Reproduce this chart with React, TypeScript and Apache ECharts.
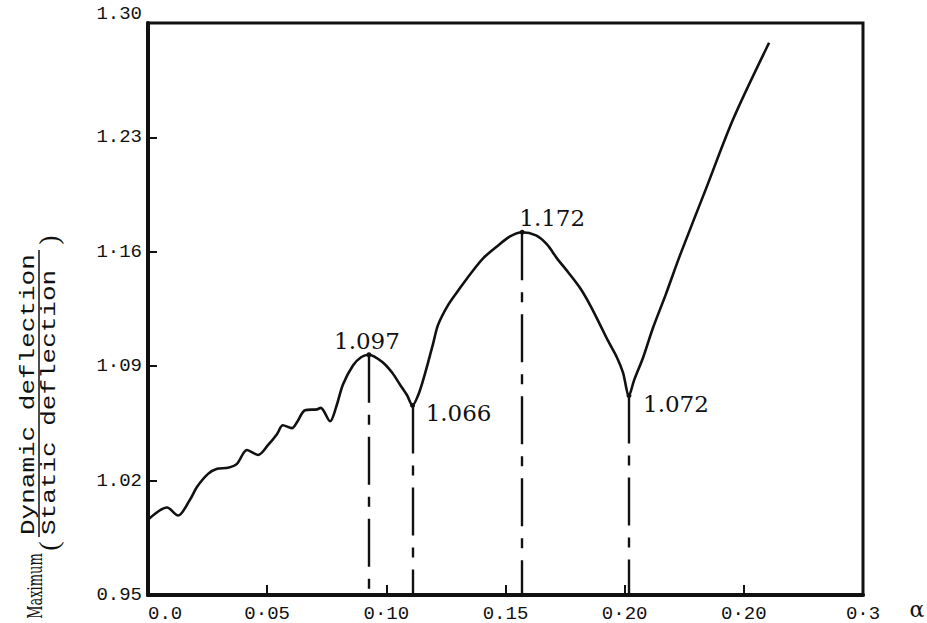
import React, { useEffect, useRef } from "react";
import * as echarts from "echarts";

// ---- data ----
const CURVE_X = [
  0.0, 0.008, 0.0126, 0.0176, 0.0206, 0.0252, 0.029, 0.0336, 0.0373, 0.0415,
  0.0462, 0.0504, 0.0541, 0.0566, 0.0604, 0.0625, 0.0659, 0.0709, 0.0725, 0.0764,
  0.0789, 0.0818, 0.086, 0.0894, 0.0927, 0.0986, 0.1024, 0.1057, 0.1087, 0.111,
  0.1133, 0.1154, 0.1175, 0.1196, 0.1217, 0.1259, 0.1309, 0.1355, 0.1406, 0.1464,
  0.1519, 0.157, 0.1628, 0.1674, 0.1716, 0.1766, 0.1813, 0.1855, 0.1897, 0.193,
  0.1968, 0.1993, 0.2018, 0.2039, 0.2077, 0.2119, 0.2173, 0.2232, 0.2341, 0.2455,
  0.2606,
];
const CURVE_Y = [
  0.996, 1.0035, 0.9986, 1.0083, 1.0162, 1.0241, 1.0272, 1.0278, 1.0302, 1.0387,
  1.0357, 1.0418, 1.0484, 1.0539, 1.0521, 1.0557, 1.063, 1.0636, 1.0645, 1.0563,
  1.0648, 1.0788, 1.0904, 1.0955, 1.097, 1.0922, 1.0861, 1.0788, 1.0722, 1.066,
  1.0721, 1.0813, 1.0922, 1.1037, 1.1153, 1.1274, 1.1378, 1.1469, 1.156, 1.1633,
  1.1694, 1.172, 1.17, 1.1645, 1.156, 1.1469, 1.1378, 1.1274, 1.1153, 1.1056,
  1.0952, 1.0861, 1.072, 1.0812, 1.0952, 1.1135, 1.1341, 1.1578, 1.1985, 1.2411,
  1.2879,
];
const EXTREMA_X = [0.0927, 0.111, 0.157, 0.2018];
const EXTREMA_Y = [1.097, 1.066, 1.172, 1.072];
const EXTREMA_LABELS = ["1.097", "1.066", "1.172", "1.072"];

const X_TICK_LABELS = ["0.0", "0·05", "0·10", "0.15", "0·20", "0·20", "0·3"];
const Y_TICK_LABELS = ["0.95", "1.02", "1·09", "1·16", "1.23", "1.30"];

const Y_TITLE_LEAD = "Maximum";
const Y_TITLE_NUM = "Dynamic deflection";
const Y_TITLE_DEN = "Static deflection";
const X_TITLE = "α";

// ---- axis settings ----
const X_MIN = 0;
const X_MAX = 0.3;
const X_STEP = 0.05;
const Y_MIN = 0.95; // y values are plotted relative to this base
const Y_STEP = 0.07;
const Y_SPAN = 0.35;

// label offsets (style, pixels)
const LABEL_OFFSETS = [
  [-2, -14],
  [46, 8],
  [30, -14],
  [47, 8],
];

const MONO = "Liberation Mono";
const SERIF = "DejaVu Serif";

export default function App() {
  const ref = useRef<HTMLDivElement>(null);

  useEffect(() => {
    if (!ref.current) return;
    const chart = echarts.init(ref.current, undefined, { renderer: "svg" });

    const lineData = CURVE_X.map((x, i) => [x, CURVE_Y[i] - Y_MIN]);

    const rotText = (
      text: string,
      x: number,
      y: number,
      size: number,
      family: string,
      align: string,
      stretch = 1
    ) => ({
      type: "text",
      x,
      y,
      rotation: Math.PI / 2,
      scaleX: stretch,
      style: {
        text,
        fill: "#111",
        fontSize: size,
        fontFamily: family,
        align,
        verticalAlign: "middle",
      },
    });

    const option: any = {
      animation: false,
      backgroundColor: "#ffffff",
      grid: {
        left: 148,
        right: 64,
        top: 23,
        bottom: 24,
        show: true,
        borderColor: "#111",
        borderWidth: 3,
        backgroundColor: "transparent",
      },
      xAxis: {
        type: "value",
        min: X_MIN,
        max: X_MAX,
        interval: X_STEP,
        axisLine: { show: true, onZero: false, lineStyle: { color: "#111", width: 4 } },
        axisTick: { show: true, inside: true, length: 10, lineStyle: { color: "#111", width: 2 } },
        splitLine: { show: false },
        axisLabel: {
          show: true,
          margin: 9,
          color: "#111",
          fontFamily: MONO,
          fontSize: 19,
          alignMinLabel: "left",
          formatter: (v: number) => X_TICK_LABELS[Math.round(v / X_STEP)] ?? "",
        },
      },
      yAxis: {
        type: "value",
        min: 0,
        max: Y_SPAN,
        interval: Y_STEP,
        axisLine: { show: true, onZero: false, lineStyle: { color: "#111", width: 4 } },
        axisTick: { show: true, inside: true, length: 9, lineStyle: { color: "#111", width: 2 } },
        splitLine: { show: false },
        axisLabel: {
          show: true,
          margin: 6,
          color: "#111",
          fontFamily: MONO,
          fontSize: 19,
          verticalAlignMaxLabel: "bottom",
          formatter: (v: number) => Y_TICK_LABELS[Math.round(v / Y_STEP)] ?? "",
        },
      },
      series: [
        {
          type: "line",
          data: lineData,
          smooth: 0.3,
          showSymbol: false,
          symbol: "none",
          lineStyle: { color: "#111", width: 2.6 },
          silent: true,
          markLine: {
            silent: true,
            symbol: "none",
            label: { show: false },
            lineStyle: { color: "#111", width: 2.4, type: [48, 12, 10, 12] },
            data: EXTREMA_X.map((x, i) => [
              { coord: [x, EXTREMA_Y[i] - Y_MIN] },
              { coord: [x, 0] },
            ]),
          },
          markPoint: {
            silent: true,
            symbol: "circle",
            symbolSize: 5,
            itemStyle: { color: "#111" },
            data: EXTREMA_X.map((x, i) => ({
              coord: [x, EXTREMA_Y[i] - Y_MIN],
              label: {
                show: true,
                position: "inside",
                align: "center",
                verticalAlign: "middle",
                offset: LABEL_OFFSETS[i],
                formatter: EXTREMA_LABELS[i],
                color: "#111",
                fontFamily: SERIF,
                fontSize: 23,
              },
            })),
          },
        },
      ],
      graphic: [
        rotText(Y_TITLE_LEAD, 35, 586, 21, "DejaVu Serif", "center", 0.62),
        rotText("(", 48, 546, 28, "Liberation Serif", "center"),
        rotText(Y_TITLE_NUM, 29, 535, 20, MONO, "left", 1.3),
        {
          type: "line",
          shape: { x1: 39, y1: 537, x2: 39, y2: 250 },
          style: { stroke: "#111", lineWidth: 1.5 },
        },
        rotText(Y_TITLE_DEN, 50, 535, 20, MONO, "left", 1.3),
        rotText(")", 48, 240, 28, "Liberation Serif", "center"),
        {
          type: "text",
          x: 917,
          y: 609,
          style: {
            text: X_TITLE,
            fill: "#111",
            fontSize: 22,
            fontFamily: SERIF,
            align: "center",
            verticalAlign: "middle",
          },
        },
      ],
    };

    chart.setOption(option);
    return () => chart.dispose();
  }, []);

  return (
    <div
      ref={ref}
      style={{ position: "fixed", left: 0, top: 0, width: 927, height: 623, background: "#fff" }}
    />
  );
}
